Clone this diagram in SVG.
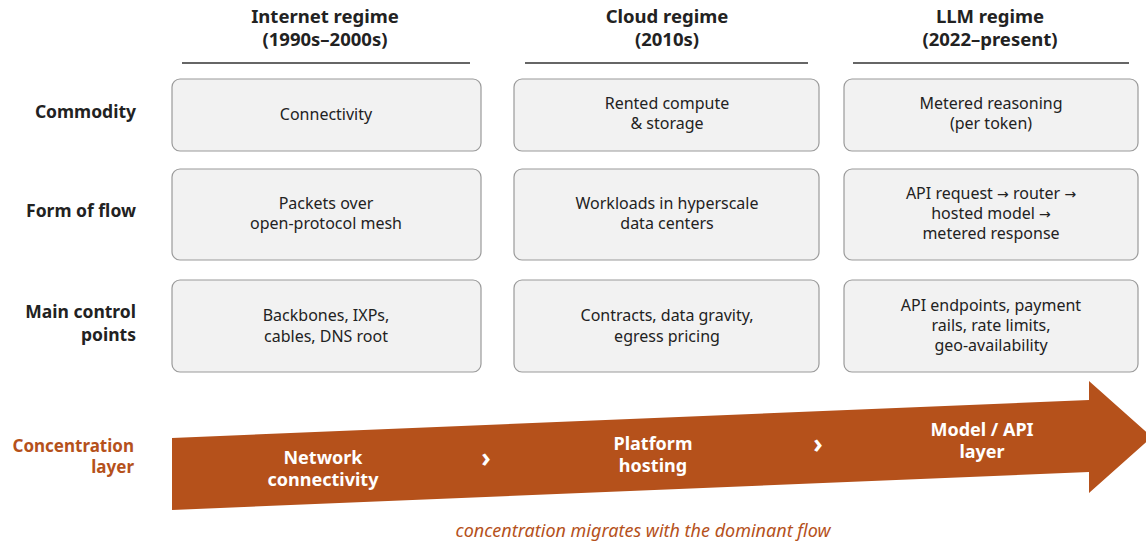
<svg xmlns="http://www.w3.org/2000/svg" width="1146" height="546" viewBox="0 0 1146 546">
  <style>
    .hdr { font-family: "Noto Sans", "Liberation Sans", sans-serif; font-weight: 700; font-size: 18.5px; fill: #222; text-anchor: middle; }
    .rowlbl { font-family: "Noto Sans", "Liberation Sans", sans-serif; font-weight: 700; font-size: 17.5px; fill: #222; text-anchor: end; }
    .box { fill: #f2f2f2; stroke: #9a9a9a; stroke-width: 1.2; }
    .cell { font-family: "Noto Sans", "Liberation Sans", sans-serif; font-size: 16px; fill: #222; text-anchor: middle; }
    .arw { font-family: "DejaVu Sans", sans-serif; font-size: 14px; }
    .rule { stroke: #333; stroke-width: 1.3; }
    .band { fill: #b5511b; }
    .bandtxt { font-family: "Noto Sans", "Liberation Sans", sans-serif; font-weight: 700; font-size: 18px; fill: #fff; text-anchor: middle; }
    .chev { font-family: "Noto Sans", "Liberation Sans", sans-serif; font-weight: 700; font-size: 26px; fill: #fff; text-anchor: middle; }
    .accent { fill: #b5511b; }
    .conc { font-family: "Noto Sans", "Liberation Sans", sans-serif; font-weight: 700; font-size: 17px; text-anchor: end; }
    .note { font-family: "Noto Sans", "Liberation Sans", sans-serif; font-style: italic; font-size: 18px; text-anchor: middle; }
  </style>

  <rect width="1146" height="546" fill="#ffffff"/>

  <!-- column headers -->
  <g id="header-internet">
    <text class="hdr" x="325" y="23">Internet regime</text>
    <text class="hdr" x="325" y="46">(1990s–2000s)</text>
    <line class="rule" x1="182" y1="63" x2="470" y2="63"/>
  </g>
  <g id="header-cloud">
    <text class="hdr" x="667" y="23">Cloud regime</text>
    <text class="hdr" x="667" y="46">(2010s)</text>
    <line class="rule" x1="525" y1="63" x2="808" y2="63"/>
  </g>
  <g id="header-llm">
    <text class="hdr" x="990" y="23">LLM regime</text>
    <text class="hdr" x="990" y="46">(2022–present)</text>
    <line class="rule" x1="853" y1="63" x2="1129" y2="63"/>
  </g>

  <!-- row labels -->
  <g id="row-commodity"><text class="rowlbl" x="136" y="118">Commodity</text></g>
  <g id="row-flow"><text class="rowlbl" x="136" y="217">Form of flow</text></g>
  <g id="row-control">
    <text class="rowlbl" x="136" y="318">Main control</text>
    <text class="rowlbl" x="136" y="341">points</text>
  </g>

  <!-- row 1 -->
  <g id="cell-internet-commodity">
    <rect class="box" x="172" y="79" width="309" height="72" rx="8"/>
    <text class="cell" x="326" y="120">Connectivity</text>
  </g>
  <g id="cell-cloud-commodity">
    <rect class="box" x="514" y="79" width="305" height="72" rx="8"/>
    <text class="cell" x="667" y="109">Rented compute</text>
    <text class="cell" x="667" y="129">&amp; storage</text>
  </g>
  <g id="cell-llm-commodity">
    <rect class="box" x="844" y="79" width="294" height="72" rx="8"/>
    <text class="cell" x="991" y="109">Metered reasoning</text>
    <text class="cell" x="991" y="129">(per token)</text>
  </g>

  <!-- row 2 -->
  <g id="cell-internet-flow">
    <rect class="box" x="172" y="169" width="309" height="91" rx="8"/>
    <text class="cell" x="326" y="209">Packets over</text>
    <text class="cell" x="326" y="229">open-protocol mesh</text>
  </g>
  <g id="cell-cloud-flow">
    <rect class="box" x="514" y="169" width="305" height="91" rx="8"/>
    <text class="cell" x="667" y="209">Workloads in hyperscale</text>
    <text class="cell" x="667" y="229">data centers</text>
  </g>
  <g id="cell-llm-flow">
    <rect class="box" x="844" y="169" width="294" height="91" rx="8"/>
    <text class="cell" x="991" y="199">API request <tspan class="arw">→</tspan> router <tspan class="arw">→</tspan></text>
    <text class="cell" x="991" y="219">hosted model <tspan class="arw">→</tspan></text>
    <text class="cell" x="991" y="239">metered response</text>
  </g>

  <!-- row 3 -->
  <g id="cell-internet-control">
    <rect class="box" x="172" y="280" width="309" height="92" rx="8"/>
    <text class="cell" x="326" y="321">Backbones, IXPs,</text>
    <text class="cell" x="326" y="342">cables, DNS root</text>
  </g>
  <g id="cell-cloud-control">
    <rect class="box" x="514" y="280" width="305" height="92" rx="8"/>
    <text class="cell" x="667" y="321">Contracts, data gravity,</text>
    <text class="cell" x="667" y="342">egress pricing</text>
  </g>
  <g id="cell-llm-control">
    <rect class="box" x="844" y="280" width="294" height="92" rx="8"/>
    <text class="cell" x="991" y="311">API endpoints, payment</text>
    <text class="cell" x="991" y="331">rails, rate limits,</text>
    <text class="cell" x="991" y="351">geo-availability</text>
  </g>

  <!-- concentration layer -->
  <g id="concentration-label">
    <text class="conc accent" x="134" y="452">Concentration</text>
    <text class="conc accent" x="134" y="473">layer</text>
  </g>

  <g id="concentration-arrow">
    <polygon class="band" points="172,438 1089,400 1089,381 1152,437 1089,493 1089,472 172,510"/>
    <text class="bandtxt" x="323" y="464">Network</text>
    <text class="bandtxt" x="323" y="486">connectivity</text>
    <text class="chev" x="486" y="467">›</text>
    <text class="bandtxt" x="653" y="450">Platform</text>
    <text class="bandtxt" x="653" y="472">hosting</text>
    <text class="chev" x="818" y="453">›</text>
    <text class="bandtxt" x="982" y="436">Model / API</text>
    <text class="bandtxt" x="982" y="458">layer</text>
  </g>

  <g id="footnote">
    <text class="note accent" x="643" y="537">concentration migrates with the dominant flow</text>
  </g>
</svg>
